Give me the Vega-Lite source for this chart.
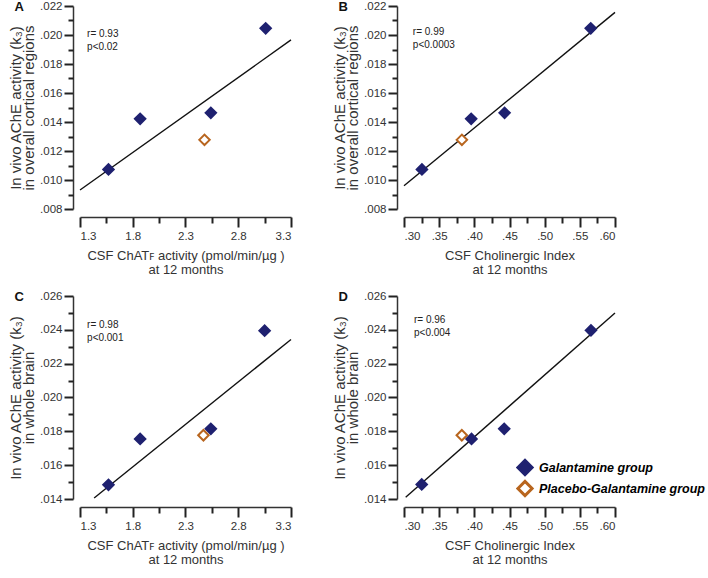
{
  "$schema": "https://vega.github.io/schema/vega-lite/v6.json",
  "padding": {"left": 8, "top": 0, "right": 0, "bottom": 0},
  "background": "white",
  "config": {
    "view": {"stroke": null},
    "font": "Liberation Sans",
    "axis": {
      "grid": false,
      "ticks": true,
      "tickOpacity": 1,
      "domainColor": "#333",
      "domainWidth": 1.5,
      "tickColor": "#222",
      "tickWidth": 2,
      "labelColor": "#333",
      "labelFont": "Liberation Sans",
      "labelFontSize": 11.5,
      "labelOverlap": false,
      "titleColor": "#333",
      "titleFont": "Liberation Sans",
      "titleFontSize": 13,
      "titleFontWeight": "normal"
    },
    "axisY": {"offset": 7, "labelPadding": 2, "titlePadding": 3, "titleFontSize": 15, "titleLineHeight": 13},
    "axisX": {"offset": 8, "labelPadding": 3, "titlePadding": 8, "titleLineHeight": 14}
  },
  "datasets": {
    "pts": [
      {"panel": "A", "x": 1.57, "y": 0.01073, "group": "Galantamine group"},
      {"panel": "A", "x": 1.87, "y": 0.01422, "group": "Galantamine group"},
      {"panel": "A", "x": 2.54, "y": 0.01463, "group": "Galantamine group"},
      {"panel": "A", "x": 3.06, "y": 0.02046, "group": "Galantamine group"},
      {"panel": "A", "x": 2.48, "y": 0.01277, "group": "Placebo-Galantamine group"},
      {"panel": "B", "x": 0.3255, "y": 0.01073, "group": "Galantamine group"},
      {"panel": "B", "x": 0.3955, "y": 0.01422, "group": "Galantamine group"},
      {"panel": "B", "x": 0.443, "y": 0.01463, "group": "Galantamine group"},
      {"panel": "B", "x": 0.5655, "y": 0.02046, "group": "Galantamine group"},
      {"panel": "B", "x": 0.3823, "y": 0.01277, "group": "Placebo-Galantamine group"},
      {"panel": "C", "x": 1.57, "y": 0.01484, "group": "Galantamine group"},
      {"panel": "C", "x": 1.87, "y": 0.01755, "group": "Galantamine group"},
      {"panel": "C", "x": 2.54, "y": 0.01815, "group": "Galantamine group"},
      {"panel": "C", "x": 3.05, "y": 0.02395, "group": "Galantamine group"},
      {"panel": "C", "x": 2.47, "y": 0.01777, "group": "Placebo-Galantamine group"},
      {"panel": "D", "x": 0.3252, "y": 0.01486, "group": "Galantamine group"},
      {"panel": "D", "x": 0.396, "y": 0.01755, "group": "Galantamine group"},
      {"panel": "D", "x": 0.4425, "y": 0.01815, "group": "Galantamine group"},
      {"panel": "D", "x": 0.5658, "y": 0.02397, "group": "Galantamine group"},
      {"panel": "D", "x": 0.3822, "y": 0.01777, "group": "Placebo-Galantamine group"}
    ],
    "fits": [
      {"panel": "A", "x": 1.3, "y": 0.00931},
      {"panel": "A", "x": 3.3, "y": 0.01966},
      {"panel": "B", "x": 0.30, "y": 0.0096},
      {"panel": "B", "x": 0.60, "y": 0.02156},
      {"panel": "C", "x": 1.434, "y": 0.01406},
      {"panel": "C", "x": 3.3, "y": 0.02343},
      {"panel": "D", "x": 0.3024, "y": 0.0141},
      {"panel": "D", "x": 0.60, "y": 0.02499}
    ],
    "notes": [
      {"panel": "A", "x": 1.367, "y": 0.01983, "t": "r= 0.93\np<0.02"},
      {"panel": "B", "x": 0.3126, "y": 0.02003, "t": "r= 0.99\np<0.0003"},
      {"panel": "C", "x": 1.367, "y": 0.02409, "t": "r= 0.98\np<0.001"},
      {"panel": "D", "x": 0.3142, "y": 0.02443, "t": "r= 0.96\np<0.004"}
    ]
  },
  "columns": 2,
  "spacing": {"row": 87, "column": 113},
  "bounds": "flush",
  "resolve": {"legend": {"stroke": "independent", "fill": "independent"}},
  "concat": [
    {
      "width": 211, "height": 203,
      "title": {"text": "A", "anchor": "start", "frame": "bounds", "fontSize": 13, "fontWeight": "bold", "color": "#111", "dx": 6, "dy": 14, "offset": 0},
      "resolve": {"axis": {"x": "independent", "y": "independent"}},
      "layer": [
        {
          "data": {"name": "fits"},
          "transform": [{"filter": "datum.panel == 'A'"}],
          "mark": {"type": "line", "color": "#111", "strokeWidth": 1.4},
          "encoding": {
            "x": {"field": "x", "type": "quantitative", "scale": {"domain": [1.3, 3.3], "nice": false, "zero": false},
              "axis": {"orient": "bottom", "values": [1.3, 1.8, 2.3, 2.8, 3.3], "format": ".1f", "tickSize": 10,
                "title": ["CSF ChATꜰ activity (pmol/min/µg )", "at 12 months"]}},
            "y": {"field": "y", "type": "quantitative", "scale": {"domain": [0.008, 0.022], "nice": false, "zero": false},
              "axis": {"orient": "left", "values": [0.008, 0.010, 0.012, 0.014, 0.016, 0.018, 0.020, 0.022], "tickSize": 9,
                "labelExpr": "substring(format(datum.value, '.3f'), 1)",
                "title": ["In vivo AChE activity (k₃)", "in overall  cortical regions"]}}
          }
        },
        {
          "data": {"name": "fits"},
          "transform": [{"filter": "datum.panel == 'A'"}],
          "mark": {"type": "line", "opacity": 0},
          "encoding": {
            "x": {"field": "x", "type": "quantitative",
              "axis": {"orient": "bottom", "values": [1.55, 2.05, 2.55, 3.05], "tickSize": 6, "labels": false, "domain": false, "title": null}},
            "y": {"field": "y", "type": "quantitative",
              "axis": {"orient": "left", "values": [0.009, 0.011, 0.013, 0.015, 0.017, 0.019, 0.021], "tickSize": 5, "labels": false, "domain": false, "title": null}}
          }
        },
        {
          "data": {"name": "pts"},
          "transform": [{"filter": "datum.panel == 'A'"}],
          "mark": {"type": "point", "shape": "diamond", "size": 110, "strokeWidth": 2, "opacity": 1},
          "encoding": {
            "x": {"field": "x", "type": "quantitative", "axis": null},
            "y": {"field": "y", "type": "quantitative", "axis": null},
            "stroke": {"field": "group", "type": "nominal", "scale": {"domain": ["Galantamine group", "Placebo-Galantamine group"], "range": ["#1f2170", "#b8651e"]}, "legend": null},
            "fill": {"field": "group", "type": "nominal", "scale": {"domain": ["Galantamine group", "Placebo-Galantamine group"], "range": ["#1f2170", "#ffffff"]}, "legend": null}
          }
        },
        {
          "data": {"name": "notes"},
          "transform": [{"filter": "datum.panel == 'A'"}],
          "mark": {"type": "text", "align": "left", "baseline": "alphabetic", "fontSize": 10, "lineBreak": "\n", "lineHeight": 13, "color": "#222"},
          "encoding": {
            "x": {"field": "x", "type": "quantitative", "axis": null},
            "y": {"field": "y", "type": "quantitative", "axis": null},
            "text": {"field": "t"}
          }
        }
      ]
    },
    {
      "width": 211, "height": 203,
      "title": {"text": "B", "anchor": "start", "frame": "bounds", "fontSize": 13, "fontWeight": "bold", "color": "#111", "dx": 6, "dy": 14, "offset": 0},
      "resolve": {"axis": {"x": "independent", "y": "independent"}},
      "layer": [
        {
          "data": {"name": "fits"},
          "transform": [{"filter": "datum.panel == 'B'"}],
          "mark": {"type": "line", "color": "#111", "strokeWidth": 1.4},
          "encoding": {
            "x": {"field": "x", "type": "quantitative", "scale": {"domain": [0.30, 0.60], "nice": false, "zero": false},
              "axis": {"orient": "bottom", "values": [0.3, 0.35, 0.4, 0.45, 0.5, 0.55, 0.6], "tickSize": 10,
                "labelExpr": "substring(format(datum.value, '.2f'), 1)",
                "title": ["CSF Cholinergic Index", "at 12 months"]}},
            "y": {"field": "y", "type": "quantitative", "scale": {"domain": [0.008, 0.022], "nice": false, "zero": false},
              "axis": {"orient": "left", "values": [0.008, 0.010, 0.012, 0.014, 0.016, 0.018, 0.020, 0.022], "tickSize": 9,
                "labelExpr": "substring(format(datum.value, '.3f'), 1)",
                "title": ["In vivo AChE activity (k₃)", "in overall  cortical regions"]}}
          }
        },
        {
          "data": {"name": "fits"},
          "transform": [{"filter": "datum.panel == 'B'"}],
          "mark": {"type": "line", "opacity": 0},
          "encoding": {
            "x": {"field": "x", "type": "quantitative",
              "axis": {"orient": "bottom", "values": [0.325, 0.375, 0.425, 0.475, 0.525, 0.575], "tickSize": 6, "labels": false, "domain": false, "title": null}},
            "y": {"field": "y", "type": "quantitative",
              "axis": {"orient": "left", "values": [0.009, 0.011, 0.013, 0.015, 0.017, 0.019, 0.021], "tickSize": 5, "labels": false, "domain": false, "title": null}}
          }
        },
        {
          "data": {"name": "pts"},
          "transform": [{"filter": "datum.panel == 'B'"}],
          "mark": {"type": "point", "shape": "diamond", "size": 110, "strokeWidth": 2, "opacity": 1},
          "encoding": {
            "x": {"field": "x", "type": "quantitative", "axis": null},
            "y": {"field": "y", "type": "quantitative", "axis": null},
            "stroke": {"field": "group", "type": "nominal", "scale": {"domain": ["Galantamine group", "Placebo-Galantamine group"], "range": ["#1f2170", "#b8651e"]}, "legend": null},
            "fill": {"field": "group", "type": "nominal", "scale": {"domain": ["Galantamine group", "Placebo-Galantamine group"], "range": ["#1f2170", "#ffffff"]}, "legend": null}
          }
        },
        {
          "data": {"name": "notes"},
          "transform": [{"filter": "datum.panel == 'B'"}],
          "mark": {"type": "text", "align": "left", "baseline": "alphabetic", "fontSize": 10, "lineBreak": "\n", "lineHeight": 13, "color": "#222"},
          "encoding": {
            "x": {"field": "x", "type": "quantitative", "axis": null},
            "y": {"field": "y", "type": "quantitative", "axis": null},
            "text": {"field": "t"}
          }
        }
      ]
    },
    {
      "width": 211, "height": 203,
      "title": {"text": "C", "anchor": "start", "frame": "bounds", "fontSize": 13, "fontWeight": "bold", "color": "#111", "dx": 6, "dy": 14, "offset": 0},
      "resolve": {"axis": {"x": "independent", "y": "independent"}},
      "layer": [
        {
          "data": {"name": "fits"},
          "transform": [{"filter": "datum.panel == 'C'"}],
          "mark": {"type": "line", "color": "#111", "strokeWidth": 1.4},
          "encoding": {
            "x": {"field": "x", "type": "quantitative", "scale": {"domain": [1.3, 3.3], "nice": false, "zero": false},
              "axis": {"orient": "bottom", "values": [1.3, 1.8, 2.3, 2.8, 3.3], "format": ".1f", "tickSize": 10,
                "title": ["CSF ChATꜰ activity (pmol/min/µg )", "at 12 months"]}},
            "y": {"field": "y", "type": "quantitative", "scale": {"domain": [0.014, 0.026], "nice": false, "zero": false},
              "axis": {"orient": "left", "values": [0.014, 0.016, 0.018, 0.020, 0.022, 0.024, 0.026], "tickSize": 9,
                "labelExpr": "substring(format(datum.value, '.3f'), 1)",
                "title": ["In vivo AChE activity (k₃)", "in whole brain"]}}
          }
        },
        {
          "data": {"name": "fits"},
          "transform": [{"filter": "datum.panel == 'C'"}],
          "mark": {"type": "line", "opacity": 0},
          "encoding": {
            "x": {"field": "x", "type": "quantitative",
              "axis": {"orient": "bottom", "values": [1.55, 2.05, 2.55, 3.05], "tickSize": 6, "labels": false, "domain": false, "title": null}},
            "y": {"field": "y", "type": "quantitative",
              "axis": {"orient": "left", "values": [0.015, 0.017, 0.019, 0.021, 0.023, 0.025], "tickSize": 5, "labels": false, "domain": false, "title": null}}
          }
        },
        {
          "data": {"name": "pts"},
          "transform": [{"filter": "datum.panel == 'C'"}],
          "mark": {"type": "point", "shape": "diamond", "size": 110, "strokeWidth": 2, "opacity": 1},
          "encoding": {
            "x": {"field": "x", "type": "quantitative", "axis": null},
            "y": {"field": "y", "type": "quantitative", "axis": null},
            "stroke": {"field": "group", "type": "nominal", "scale": {"domain": ["Galantamine group", "Placebo-Galantamine group"], "range": ["#1f2170", "#b8651e"]}, "legend": null},
            "fill": {"field": "group", "type": "nominal", "scale": {"domain": ["Galantamine group", "Placebo-Galantamine group"], "range": ["#1f2170", "#ffffff"]}, "legend": null}
          }
        },
        {
          "data": {"name": "notes"},
          "transform": [{"filter": "datum.panel == 'C'"}],
          "mark": {"type": "text", "align": "left", "baseline": "alphabetic", "fontSize": 10, "lineBreak": "\n", "lineHeight": 13, "color": "#222"},
          "encoding": {
            "x": {"field": "x", "type": "quantitative", "axis": null},
            "y": {"field": "y", "type": "quantitative", "axis": null},
            "text": {"field": "t"}
          }
        }
      ]
    },
    {
      "width": 211, "height": 203,
      "title": {"text": "D", "anchor": "start", "frame": "bounds", "fontSize": 13, "fontWeight": "bold", "color": "#111", "dx": 6, "dy": 14, "offset": 0},
      "resolve": {"axis": {"x": "independent", "y": "independent"}},
      "layer": [
        {
          "data": {"name": "fits"},
          "transform": [{"filter": "datum.panel == 'D'"}],
          "mark": {"type": "line", "color": "#111", "strokeWidth": 1.4},
          "encoding": {
            "x": {"field": "x", "type": "quantitative", "scale": {"domain": [0.30, 0.60], "nice": false, "zero": false},
              "axis": {"orient": "bottom", "values": [0.3, 0.35, 0.4, 0.45, 0.5, 0.55, 0.6], "tickSize": 10,
                "labelExpr": "substring(format(datum.value, '.2f'), 1)",
                "title": ["CSF Cholinergic Index", "at 12 months"]}},
            "y": {"field": "y", "type": "quantitative", "scale": {"domain": [0.014, 0.026], "nice": false, "zero": false},
              "axis": {"orient": "left", "values": [0.014, 0.016, 0.018, 0.020, 0.022, 0.024, 0.026], "tickSize": 9,
                "labelExpr": "substring(format(datum.value, '.3f'), 1)",
                "title": ["In vivo AChE activity (k₃)", "in whole brain"]}}
          }
        },
        {
          "data": {"name": "fits"},
          "transform": [{"filter": "datum.panel == 'D'"}],
          "mark": {"type": "line", "opacity": 0},
          "encoding": {
            "x": {"field": "x", "type": "quantitative",
              "axis": {"orient": "bottom", "values": [0.325, 0.375, 0.425, 0.475, 0.525, 0.575], "tickSize": 6, "labels": false, "domain": false, "title": null}},
            "y": {"field": "y", "type": "quantitative",
              "axis": {"orient": "left", "values": [0.015, 0.017, 0.019, 0.021, 0.023, 0.025], "tickSize": 5, "labels": false, "domain": false, "title": null}}
          }
        },
        {
          "data": {"name": "pts"},
          "transform": [{"filter": "datum.panel == 'D'"}],
          "mark": {"type": "point", "shape": "diamond", "size": 110, "strokeWidth": 2, "opacity": 1},
          "encoding": {
            "x": {"field": "x", "type": "quantitative", "axis": null},
            "y": {"field": "y", "type": "quantitative", "axis": null},
            "stroke": {"field": "group", "type": "nominal", "scale": {"domain": ["Galantamine group", "Placebo-Galantamine group"], "range": ["#1f2170", "#b8651e"]},
              "legend": {"orient": "none", "legendX": 112, "legendY": 161, "title": null, "symbolType": "diamond", "symbolSize": 200, "symbolStrokeWidth": 3, "labelFontSize": 12.5, "labelFontWeight": "bold", "labelFontStyle": "italic", "labelFont": "Liberation Sans", "rowPadding": 0, "clipHeight": 21, "labelOffset": 5, "padding": 0, "labelLimit": 300,
                "encode": {"labels": {"update": {"fill": {"signal": "datum.value == 'Galantamine group' ? '#1f2570' : '#a8671c'"}}}}}},
            "fill": {"field": "group", "type": "nominal", "scale": {"domain": ["Galantamine group", "Placebo-Galantamine group"], "range": ["#1f2170", "#ffffff"]},
              "legend": {"orient": "none", "legendX": 112, "legendY": 161, "title": null, "symbolType": "diamond", "symbolSize": 200, "symbolStrokeWidth": 3, "labelFontSize": 12.5, "labelFontWeight": "bold", "labelFontStyle": "italic", "labelFont": "Liberation Sans", "rowPadding": 0, "clipHeight": 21, "labelOffset": 5, "padding": 0, "labelLimit": 300,
                "encode": {"labels": {"update": {"fill": {"signal": "datum.value == 'Galantamine group' ? '#1f2570' : '#a8671c'"}}}}}}
          }
        },
        {
          "data": {"name": "notes"},
          "transform": [{"filter": "datum.panel == 'D'"}],
          "mark": {"type": "text", "align": "left", "baseline": "alphabetic", "fontSize": 10, "lineBreak": "\n", "lineHeight": 13, "color": "#222"},
          "encoding": {
            "x": {"field": "x", "type": "quantitative", "axis": null},
            "y": {"field": "y", "type": "quantitative", "axis": null},
            "text": {"field": "t"}
          }
        }
      ]
    }
  ]
}
